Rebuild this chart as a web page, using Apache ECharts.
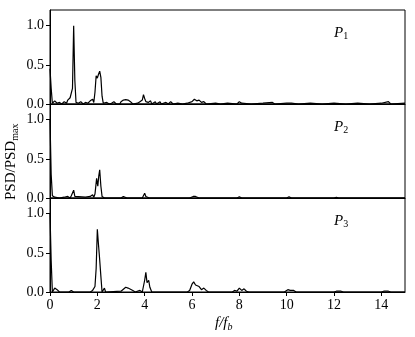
<!DOCTYPE html>
<html>
<head>
<meta charset="utf-8">
<script src="https://cdn.jsdelivr.net/npm/echarts@6/dist/echarts.min.js"></script>
<style>
  html, body { margin: 0; padding: 0; background: #fff; }
  #chart { width: 415px; height: 337px; }
</style>
</head>
<body>
<div id="chart"></div>
<script>
// 面板标签
const panelNames = ['1', '2', '3']
// y 轴刻度
const yTicks = [0, 0.5, 1.0]
// x 轴刻度
const xTicks = [0, 2, 4, 6, 8, 10, 12, 14]

// P1 频谱 [f/fb, PSD/PSDmax]
const p1Data = [
  [0, 0.45], [0.05, 0.2], [0.1, 0.01], [0.2, 0.04], [0.3, 0.01], [0.4, 0.02], [0.5, 0.0],
  [0.6, 0.03], [0.7, 0.01], [0.75, 0.05], [0.8, 0.03], [0.85, 0.08], [0.9, 0.06], [0.95, 0.2],
  [1.0, 1.0], [1.05, 0.3], [1.1, 0.02], [1.2, 0.01], [1.3, 0.03], [1.4, 0.0], [1.5, 0.02],
  [1.6, 0.01], [1.7, 0.04], [1.75, 0.02], [1.8, 0.06], [1.85, 0.02], [1.9, 0.15], [1.95, 0.36],
  [2.0, 0.33], [2.05, 0.38], [2.1, 0.42], [2.15, 0.34], [2.2, 0.1], [2.25, 0.01], [2.4, 0.02],
  [2.5, 0.0], [2.6, 0.01], [2.7, 0.03], [2.8, 0.0], [2.95, 0.0], [3.0, 0.03], [3.1, 0.05],
  [3.2, 0.055], [3.3, 0.05], [3.4, 0.03], [3.5, 0.0], [3.7, 0.01], [3.8, 0.03], [3.9, 0.05],
  [3.95, 0.12], [4.0, 0.07], [4.05, 0.03], [4.1, 0.05], [4.15, 0.02], [4.25, 0.04], [4.3, 0.0],
  [4.45, 0.03], [4.5, 0.0], [4.65, 0.03], [4.7, 0.0], [4.9, 0.02], [5.0, 0.0], [5.1, 0.03],
  [5.2, 0.0], [5.4, 0.01], [5.6, 0.0], [5.8, 0.01], [6.0, 0.03], [6.1, 0.06], [6.2, 0.04],
  [6.3, 0.05], [6.4, 0.02], [6.5, 0.03], [6.6, 0.0], [7.0, 0.01], [7.2, 0.0], [7.5, 0.01],
  [7.9, 0.0], [8.0, 0.03], [8.1, 0.01], [8.5, 0.0], [9.0, 0.01], [9.4, 0.02], [9.5, 0.0],
  [10.0, 0.01], [10.2, 0.01], [10.5, 0.0], [11.0, 0.01], [11.5, 0.0], [12.0, 0.01], [12.5, 0.0],
  [13.0, 0.01], [13.5, 0.0], [14.0, 0.01], [14.3, 0.03], [14.4, 0.0], [15, 0.01]
]

// P2 频谱
const p2Data = [
  [0, 1.0], [0.05, 0.3], [0.1, 0.03], [0.15, 0.04], [0.2, 0.01], [0.4, 0.0], [0.6, 0.01],
  [0.75, 0.02], [0.85, 0.0], [0.9, 0.03], [1.0, 0.1], [1.05, 0.02], [1.1, 0.0], [1.5, 0.01],
  [1.7, 0.02], [1.8, 0.04], [1.85, 0.01], [1.9, 0.05], [1.97, 0.25], [2.02, 0.15], [2.06, 0.28],
  [2.1, 0.36], [2.15, 0.15], [2.2, 0.02], [2.3, 0.0], [3.0, 0.0], [3.1, 0.02], [3.15, 0.04],
  [3.25, 0.0], [3.9, 0.0], [4.0, 0.06], [4.05, 0.02], [4.1, 0.03], [4.2, 0.0], [5.0, 0.0],
  [5.9, 0.0], [6.05, 0.02], [6.15, 0.02], [6.3, 0.0], [7.9, 0.0], [8.0, 0.015], [8.1, 0.0],
  [10.0, 0.0], [10.1, 0.015], [10.2, 0.0], [12.0, 0.0], [12.1, 0.01], [12.2, 0.0], [15, 0.0]
]

// P3 频谱
const p3Data = [
  [0, 1.0], [0.05, 0.4], [0.1, 0.0], [0.2, 0.05], [0.3, 0.03], [0.4, 0.0], [0.8, 0.0],
  [0.9, 0.02], [1.0, 0.0], [1.7, 0.0], [1.8, 0.02], [1.9, 0.07], [1.95, 0.3], [2.0, 0.8],
  [2.05, 0.6], [2.09, 0.45], [2.15, 0.2], [2.2, 0.0], [2.3, 0.05], [2.35, 0.0], [3.0, 0.01],
  [3.2, 0.06], [3.3, 0.05], [3.5, 0.02], [3.6, 0.0], [3.8, 0.02], [3.9, 0.0], [4.0, 0.15],
  [4.05, 0.25], [4.1, 0.12], [4.17, 0.15], [4.22, 0.06], [4.3, 0.0], [5.8, 0.0], [5.9, 0.02],
  [6.0, 0.1], [6.07, 0.13], [6.15, 0.09], [6.2, 0.11], [6.3, 0.07], [6.4, 0.03], [6.5, 0.05],
  [6.6, 0.02], [6.7, 0.0], [7.7, 0.0], [7.8, 0.02], [7.9, 0.01], [8.0, 0.05], [8.1, 0.02],
  [8.2, 0.04], [8.3, 0.01], [8.4, 0.0], [9.9, 0.0], [10.05, 0.03], [10.15, 0.02], [10.3, 0.02],
  [10.4, 0.0], [12.0, 0.0], [12.1, 0.01], [12.3, 0.01], [12.4, 0.0], [14.0, 0.0], [14.1, 0.01],
  [14.3, 0.01], [14.4, 0.0], [15, 0.0]
]

const seriesData = [p1Data, p2Data, p3Data]

const FONT = 'Liberation Serif'
const panelTop = [10, 104, 198]
const panelH = 94

let chart = echarts.init(document.getElementById('chart'), null, { renderer: 'canvas' })

let grids = [], xAxes = [], yAxes = [], series = [], graphics = []
for (let i = 0; i < 3; i++) {
  grids.push({
    left: 50, right: 10, top: panelTop[i], height: panelH,
    show: true, borderColor: '#000', borderWidth: 1, backgroundColor: 'transparent'
  })
  let last = i == 2
  xAxes.push({
    type: 'value', gridIndex: i, min: 0, max: 15, interval: 2,
    axisLine: { show: true, onZero: false, lineStyle: { color: '#000', width: 1 } },
    axisTick: { show: last, length: 4, lineStyle: { color: '#000' } },
    axisLabel: {
      show: last, color: '#000', fontFamily: FONT, fontSize: 14, margin: 6,
      showMaxLabel: false,
      formatter: v => xTicks.indexOf(v) >= 0 ? String(v) : ''
    },
    splitLine: { show: false }
  })
  yAxes.push({
    type: 'value', gridIndex: i, min: 0, max: 1.2, interval: 0.5,
    axisLine: { show: true, lineStyle: { color: '#000', width: 1 } },
    axisTick: { show: true, length: 4, lineStyle: { color: '#000' } },
    axisLabel: {
      color: '#000', fontFamily: FONT, fontSize: 14, margin: 6, showMaxLabel: false,
      formatter: v => yTicks.indexOf(v) >= 0 ? v.toFixed(1) : ''
    },
    splitLine: { show: false }
  })
  series.push({
    type: 'line', xAxisIndex: i, yAxisIndex: i, data: seriesData[i],
    showSymbol: false, symbol: 'none', animation: false,
    lineStyle: { color: '#000', width: 1.2 }
  })
  graphics.push({
    type: 'text', left: 334, top: panelTop[i] + 16,
    style: {
      text: '{p|P}{s|' + panelNames[i] + '}',
      rich: {
        p: { fontFamily: FONT, fontStyle: 'italic', fontSize: 15, fill: '#000' },
        s: { fontFamily: FONT, fontSize: 10, fill: '#000', verticalAlign: 'bottom', padding: [6, 0, 0, 0] }
      }
    }
  })
}

// y 轴标题
graphics.push({
  type: 'text', x: 2, y: 200, rotation: Math.PI / 2,
  style: {
    text: '{a|PSD/PSD}{b|max}',
    rich: {
      a: { fontFamily: FONT, fontSize: 15, fill: '#000' },
      b: { fontFamily: FONT, fontSize: 10, fill: '#000', padding: [8, 0, 0, 0] }
    }
  }
})
// x 轴标题
graphics.push({
  type: 'text', left: 215, top: 316,
  style: {
    text: '{a|f/f}{b|b}',
    rich: {
      a: { fontFamily: FONT, fontStyle: 'italic', fontSize: 15, fill: '#000' },
      b: { fontFamily: FONT, fontStyle: 'italic', fontSize: 10, fill: '#000', padding: [7, 0, 0, 0] }
    }
  }
})

chart.setOption({
  backgroundColor: '#fff',
  animation: false,
  grid: grids,
  xAxis: xAxes,
  yAxis: yAxes,
  series: series,
  graphic: graphics
})
</script>
</body>
</html>
